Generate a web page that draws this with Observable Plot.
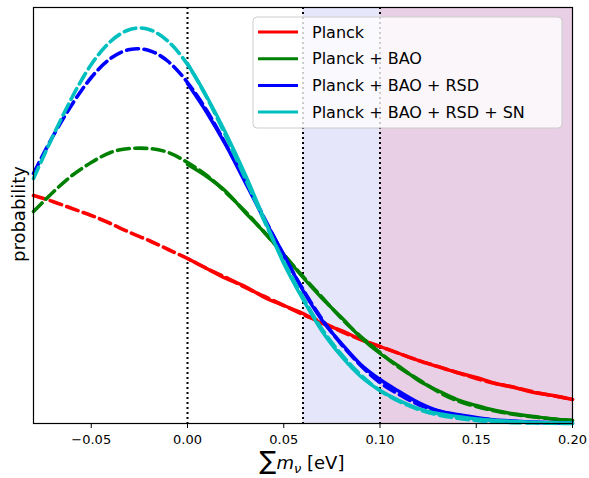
<!DOCTYPE html>
<html><head><meta charset="utf-8">
<script src="https://cdn.jsdelivr.net/npm/d3@7"></script>
<script src="https://cdn.jsdelivr.net/npm/@observablehq/plot@0.6"></script>
<style>body{margin:0;background:#fff;} svg{font-family:"DejaVu Sans",sans-serif;}</style>
</head><body><div id="chart"></div>
<script>
// x grid for the fitted (dashed) curves
const xFit = [-0.08,-0.07,-0.06,-0.05,-0.04,-0.03,-0.02,-0.01,0.00,0.01,0.02,0.03,0.04,0.05,0.06,0.07,0.08,0.09,0.10,0.11,0.12,0.13,0.14,0.15,0.16,0.17,0.18,0.19,0.20];
const fitPlanck   = [228,222,215,208,200,191,183,174,165,155,146,136,127,118,109,101,92,84,77,70,63,57,51,45,40,36,31.5,27.7,24];
const fitBAO      = [212,231,248,261,271,275,275,271,261,248,231,212,191,169,147,126,105,87,71,56,44,32,23,17,12.5,9,6.5,4.5,3];
const fitRSD      = [250,287,319,346,365,374,373,362,341,313,279,243,205,168,134,104,79,58,41,29,19,12.8,8.2,5.1,3.1,1.8,1.0,0.6,0.3];
const fitSN       = [245,287,326,359,382,394,394,382,359,326,287,245,202,162,126,94,69,48.5,33,22,14,8.7,5.3,3.1,1.7,0.9,0.5,0.2,0.1];
// x grid for the sampled (solid) curves, m_nu >= 0
const xData = [0.00,0.01,0.02,0.03,0.04,0.05,0.06,0.07,0.08,0.09,0.10,0.11,0.12,0.13,0.14,0.15,0.16,0.17,0.18,0.19,0.20];
const dataPlanck = [165,155,145,137,126,118,110,100,93,84,77,70,63,57,51,46,40,36,31,28,24];
const dataBAO    = [259,247,232,211,191,169,146,125,106,86,70,57,43,33,24,18,13,9.5,7,4.5,3];
const dataRSD    = [340,311,278,241,204,169,133,103,80,59,44,32,21,13,9,6,3.5,2.5,1.5,1,0.5];
const dataSN     = [360,327,290,249,204,160,124,92,67,47,33,23,15,10,7,4.5,3,2,1.2,0.8,0.5];
const seriesNames = ["Planck","Planck + BAO","Planck + BAO + RSD","Planck + BAO + RSD + SN"];
const seriesColors = ["#ff0000","#008000","#0000ff","#00bfbf"];
const xTicks = [-0.05,0.00,0.05,0.10,0.15,0.20];
const bandStarts = [0.06,0.10];
const bandEnds = [0.10,0.20];
const bandColors = ["#e6e6fa","#e8cfe5"];
const markerLines = [0.00,0.06,0.10];

const fits = [fitPlanck,fitBAO,fitRSD,fitSN];
const datas = [dataPlanck,dataBAO,dataRSD,dataSN];
const bands = bandStarts.map((s,i)=>({x1:s,x2:bandEnds[i],c:bandColors[i]}));

const marks = [
  Plot.rect(bands,{x1:"x1",x2:"x2",fill:"c"}),
  Plot.ruleX(markerLines,{stroke:"#000",strokeWidth:2,strokeDasharray:"2,3"})
];
fits.forEach((f,i)=>{
  const d = xData.map((x,j)=>({x,y:datas[i][j]}));
  marks.push(Plot.line(d,{x:"x",y:"y",stroke:seriesColors[i],strokeWidth:3.4,curve:"monotone-x"}));
  const fd = xFit.map((x,j)=>({x,y:f[j]}));
  marks.push(Plot.line(fd,{x:"x",y:"y",stroke:seriesColors[i],strokeWidth:3.6,strokeDasharray:"12,5.5",curve:"natural"}));
});
marks.push(Plot.axisX({ticks:xTicks,tickSize:5,tickPadding:6,fontSize:13,
  tickFormat:d=>(d<0?"\u2212":"")+Math.abs(d).toFixed(2),label:null}));
marks.push(Plot.frame({stroke:"#000",strokeWidth:1.2}));

const chart = Plot.plot({
  width:589,height:478,
  marginLeft:33,marginRight:17,marginTop:7,marginBottom:55,
  style:{background:"#fff",color:"#000",fontFamily:"DejaVu Sans",fontSize:"13px",overflow:"visible"},
  x:{domain:[-0.08,0.2]},
  y:{domain:[0,416],axis:null},
  marks
});
document.getElementById("chart").appendChild(chart);

const svg = d3.select(chart);
svg.selectAll("text").filter(function(){ return /^[\u22120-9.]+$/.test(this.textContent); })
  .style("font-size","13px").style("font-family","DejaVu Sans");
// legend
const lg = svg.append("g").attr("text-anchor","start");
lg.append("rect").attr("x",253).attr("y",17).attr("width",309).attr("height",111)
  .attr("rx",4).attr("fill","#fff").attr("fill-opacity",0.8).attr("stroke","#cccccc");
seriesNames.forEach((n,i)=>{
  const y = 32 + i*26.7;
  lg.append("line").attr("x1",258).attr("x2",298).attr("y1",y).attr("y2",y)
    .attr("stroke",seriesColors[i]).attr("stroke-width",3);
  lg.append("text").attr("x",312).attr("y",y).attr("dy","0.36em").attr("text-anchor","start")
    .style("font-size","16px").attr("fill","#000").text(n);
});
// axis labels
const xl = svg.append("text").attr("x",302).attr("y",469).attr("text-anchor","middle")
  .style("font-size","18px").attr("fill","#000");
xl.append("tspan").style("font-size","25px").text("\u2211");
xl.append("tspan").attr("font-style","italic").text("m");
xl.append("tspan").attr("font-style","italic").style("font-size","13px").attr("dy",4).text("\u03bd");
xl.append("tspan").attr("dy",-4).text(" [eV]");
svg.append("text").attr("transform","translate(25,214) rotate(-90)").attr("text-anchor","middle")
  .style("font-size","18px").attr("fill","#000").text("probability");
</script></body></html>
